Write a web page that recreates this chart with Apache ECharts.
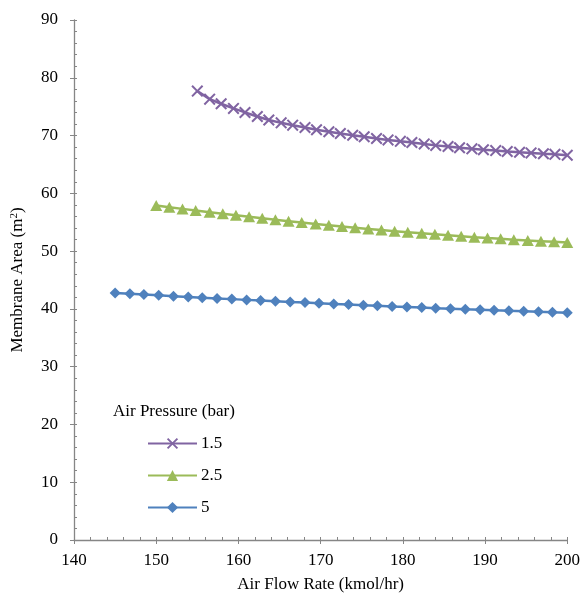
<!DOCTYPE html>
<html>
<head>
<meta charset="utf-8">
<script src="https://cdn.jsdelivr.net/npm/echarts@6/dist/echarts.min.js"></script>
<style>
  html, body { margin: 0; padding: 0; background: #fff; }
  #container { width: 583px; height: 598px; }
</style>
</head>
<body>
<div id="container"></div>
<script>
// air flow rate (kmol/hr) and membrane area (m2)
var flow15 = [155.0, 156.5, 157.9, 159.4, 160.8, 162.3, 163.7, 165.2, 166.6, 168.1, 169.5, 171.0, 172.4, 173.9, 175.3, 176.8,
              178.2, 179.7, 181.1, 182.6, 184.0, 185.5, 186.9, 188.4, 189.8, 191.3, 192.7, 194.2, 195.6, 197.1, 198.5, 200.0]
var area15 = [77.7, 76.3, 75.5, 74.7, 74.0, 73.3, 72.7, 72.2, 71.8, 71.4, 71.0, 70.65, 70.35, 70.05, 69.8, 69.5,
              69.25, 69.0, 68.8, 68.55, 68.3, 68.1, 67.9, 67.7, 67.55, 67.4, 67.25, 67.1, 67.0, 66.85, 66.75, 66.6]

var flow25 = [150.0, 151.6, 153.2, 154.8, 156.5, 158.1, 159.7, 161.3, 162.9, 164.5, 166.1, 167.7, 169.4, 171.0, 172.6, 174.2,
              175.8, 177.4, 179.0, 180.6, 182.3, 183.9, 185.5, 187.1, 188.7, 190.3, 191.9, 193.5, 195.2, 196.8, 198.4, 200.0]
var area25 = [57.9, 57.6, 57.31, 57.02, 56.74, 56.46, 56.19, 55.93, 55.67, 55.42, 55.18, 54.94, 54.71, 54.48, 54.26, 54.05,
              53.84, 53.64, 53.45, 53.26, 53.08, 52.9, 52.73, 52.57, 52.41, 52.26, 52.12, 51.98, 51.84, 51.72, 51.6, 51.48]

var flow5 = [145.0, 146.8, 148.5, 150.3, 152.1, 153.9, 155.6, 157.4, 159.2, 161.0, 162.7, 164.5, 166.3, 168.1, 169.8, 171.6,
             173.4, 175.2, 176.9, 178.7, 180.5, 182.3, 184.0, 185.8, 187.6, 189.4, 191.1, 192.9, 194.7, 196.5, 198.2, 200.0]
var area5 = [42.75, 42.61, 42.47, 42.34, 42.2, 42.07, 41.94, 41.81, 41.69, 41.56, 41.44, 41.32, 41.2, 41.09, 40.97, 40.86,
             40.75, 40.64, 40.54, 40.43, 40.33, 40.23, 40.13, 40.04, 39.94, 39.85, 39.76, 39.67, 39.59, 39.5, 39.42, 39.34]

var seriesNames = ['1.5', '2.5', '5']
var seriesColors = ['#8064A2', '#9BBB59', '#4F81BD']

function pairs(xs, ys) {
    var out = []
    for (var i = 0; i < xs.length; i++) {
        out.push([xs[i], ys[i]])
    }
    return out
}

var font = 'Liberation Serif'
var axisGrey = '#868686'
var crossPath = 'path://M0,1.2L1.2,0L5,3.8L8.8,0L10,1.2L6.2,5L10,8.8L8.8,10L5,6.2L1.2,10L0,8.8L3.8,5Z'

var myChart = echarts.init(document.getElementById('container'))
myChart.setOption({
    animation: false,
    textStyle: { fontFamily: font },
    title: {
        text: 'Air Pressure (bar)',
        left: 108,
        top: 398,
        textStyle: { fontFamily: font, fontSize: 17, fontWeight: 'normal', color: '#000' }
    },
    legend: {
        orient: 'vertical',
        left: 147,
        top: 435,
        padding: 0,
        itemWidth: 49,
        itemHeight: 14,
        itemGap: 15,
        textStyle: { fontFamily: font, fontSize: 17, color: '#000', padding: [0, 0, 0, -1] },
        data: seriesNames
    },
    grid: { left: 74, right: 15, top: 20, bottom: 55 },
    xAxis: [
        {
            type: 'value',
            min: 140,
            max: 200,
            interval: 10,
            name: 'Air Flow Rate (kmol/hr)',
            nameLocation: 'middle',
            nameGap: 36,
            nameTextStyle: { fontFamily: font, fontSize: 17, color: '#000' },
            axisLine: { lineStyle: { color: axisGrey, width: 1.3 } },
            axisTick: { inside: true, length: 3, lineStyle: { color: axisGrey } },
            minorTick: { show: true, splitNumber: 5, length: 3, lineStyle: { color: axisGrey } },
            axisLabel: { fontFamily: font, fontSize: 17, color: '#000', margin: 12 },
            splitLine: { show: false }
        },
        {
            type: 'value',
            position: 'bottom',
            min: 140,
            max: 200,
            interval: 10,
            axisLine: { show: false },
            axisTick: { length: 4, lineStyle: { color: axisGrey } },
            axisLabel: { show: false },
            splitLine: { show: false }
        }
    ],
    yAxis: [
        {
            type: 'value',
            min: 0,
            max: 90,
            interval: 10,
            name: '{a|Membrane Area (m}{s|2}{a|)}',
            nameLocation: 'middle',
            nameRotate: 90,
            nameGap: 48,
            nameTextStyle: {
                rich: {
                    a: { fontFamily: font, fontSize: 17, color: '#000' },
                    s: { fontFamily: font, fontSize: 11, color: '#000', verticalAlign: 'top', padding: [0, 0, 6, 0] }
                }
            },
            axisLine: { show: true, lineStyle: { color: axisGrey, width: 1.3 } },
            axisTick: { show: true, inside: true, length: 3, lineStyle: { color: axisGrey } },
            minorTick: { show: true, splitNumber: 5, length: 3, lineStyle: { color: axisGrey } },
            axisLabel: { fontFamily: font, fontSize: 17, color: '#000', margin: 16 },
            splitLine: { show: false }
        },
        {
            type: 'value',
            position: 'left',
            min: 0,
            max: 90,
            interval: 10,
            axisLine: { show: false },
            axisTick: { show: true, length: 4, lineStyle: { color: axisGrey } },
            axisLabel: { show: false },
            splitLine: { show: false }
        }
    ],
    series: [
        {
            name: seriesNames[0],
            type: 'line',
            data: pairs(flow15, area15),
            symbol: crossPath,
            symbolSize: 12,
            color: seriesColors[0],
            lineStyle: { width: 2.5, color: seriesColors[0] },
            itemStyle: { color: seriesColors[0] }
        },
        {
            name: seriesNames[1],
            type: 'line',
            data: pairs(flow25, area25),
            symbol: 'triangle',
            symbolSize: [12, 11],
            color: seriesColors[1],
            lineStyle: { width: 2.5, color: seriesColors[1] },
            itemStyle: { color: seriesColors[1] }
        },
        {
            name: seriesNames[2],
            type: 'line',
            data: pairs(flow5, area5),
            symbol: 'diamond',
            symbolSize: 11,
            color: seriesColors[2],
            lineStyle: { width: 2.5, color: seriesColors[2] },
            itemStyle: { color: seriesColors[2] }
        }
    ]
})
</script>
</body>
</html>
